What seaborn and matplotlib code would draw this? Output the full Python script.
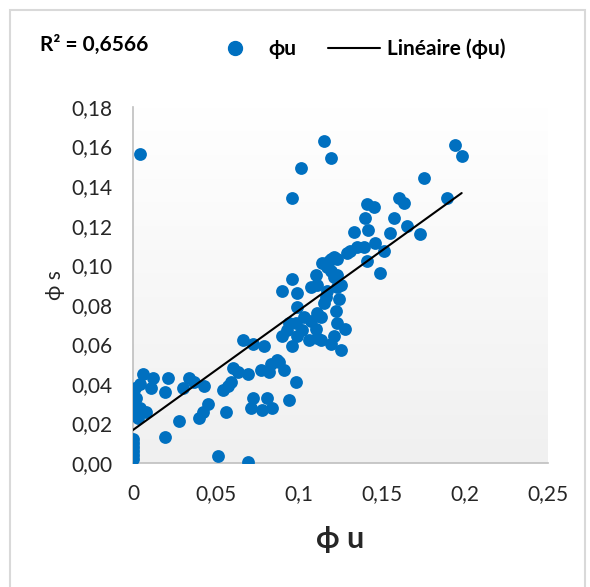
import numpy as np
import pandas as pd
import matplotlib
matplotlib.use("Agg")
import matplotlib.pyplot as plt
from matplotlib.colors import LinearSegmentedColormap
from matplotlib.lines import Line2D
from matplotlib.patches import Rectangle
import seaborn as sns

# ---- data ----
phi_u = [
    0.004, 0, 0, 0, 0, 0, 0,
    0, 0.006, 0.012, 0.011, 0.019, 0.021, 0.030, 0.034, 0.037, 0.043,
    0, 0, 0.008, 0.003, 0.004, 0.001, 0.004, 0.002,
    0.019, 0.028, 0.040, 0.042, 0.045,
    0.051, 0.069,
    0.054, 0.057, 0.059, 0.060, 0.063, 0.056,
    0.069, 0.072, 0.071, 0.078, 0.081, 0.084,
    0.077, 0.082, 0.088, 0.091, 0.083, 0.087,
    0.098, 0.094,
    0.066, 0.072, 0.079,
    0.115, 0.119, 0.1015, 0.096, 0.194, 0.198, 0.175, 0.189,
    0.141, 0.145, 0.140, 0.160, 0.163, 0.157, 0.165, 0.155, 0.173, 0.133, 0.1415,
    0.146, 0.151, 0.141, 0.149, 0.139, 0.135, 0.131, 0.129, 0.121, 0.118,
    0.119, 0.123, 0.110, 0.107, 0.096, 0.090, 0.099, 0.099,
    0.125, 0.124, 0.122, 0.123, 0.128, 0.121, 0.125, 0.113, 0.106, 0.110,
    0.113, 0.115, 0.117,
    0.094, 0.090, 0.096, 0.102, 0.103,
    0.114, 0.119, 0.123, 0.111, 0.099, 0.107, 0.111, 0.098, 0.093, 0.119, 0.111,
    0.117, 0.121, 0.123, 0.116,
]
phi_s = [
    0.156, 0.002, 0.004, 0.006, 0.008, 0.010, 0.012,
    0.036, 0.045, 0.043, 0.038, 0.036, 0.043, 0.038, 0.043, 0.041, 0.039,
    0.031, 0.026, 0.026, 0.023, 0.040, 0.038, 0.028, 0.033,
    0.013, 0.021, 0.023, 0.026, 0.030,
    0.0035, 0.0005,
    0.037, 0.039, 0.041, 0.048, 0.046, 0.026,
    0.045, 0.033, 0.028, 0.027, 0.033, 0.028,
    0.047, 0.046, 0.051, 0.047, 0.050, 0.052,
    0.041, 0.032,
    0.062, 0.060, 0.059,
    0.163, 0.154, 0.149, 0.134, 0.161, 0.155, 0.144, 0.134,
    0.131, 0.1295, 0.124, 0.134, 0.1315, 0.124, 0.120, 0.1165, 0.116, 0.117, 0.118,
    0.111, 0.107, 0.102, 0.096, 0.109, 0.109, 0.107, 0.106, 0.104, 0.102,
    0.097, 0.095, 0.095, 0.089, 0.093, 0.087, 0.086, 0.079,
    0.090, 0.083, 0.077, 0.071, 0.068, 0.064, 0.057, 0.062, 0.062, 0.068,
    0.074, 0.081, 0.087,
    0.071, 0.064, 0.059, 0.067, 0.074,
    0.101, 0.103, 0.103, 0.090, 0.064, 0.072, 0.076, 0.071, 0.067, 0.060, 0.063,
    0.099, 0.094, 0.089, 0.084,
]

# linear trend line (Excel "Linéaire")
trend_intercept = 0.0167
trend_slope = 0.605
r2_text = "R² = 0,6566"

x_ticks = [0, 0.05, 0.10, 0.15, 0.20, 0.25]
x_tick_labels = ["0", "0,05", "0,1", "0,15", "0,2", "0,25"]
y_ticks = [0, 0.02, 0.04, 0.06, 0.08, 0.10, 0.12, 0.14, 0.16, 0.18]
y_tick_labels = ["0,00", "0,02", "0,04", "0,06", "0,08", "0,10", "0,12", "0,14", "0,16", "0,18"]

df = pd.DataFrame({"phi_u": phi_u, "phi_s": phi_s})

# ---- style ----
sns.set_theme(style="white")
plt.rcParams["font.family"] = ["Lato", "DejaVu Sans"]
plt.rcParams["text.color"] = "#000000"

W, H = 590, 587
fig = plt.figure(figsize=(W / 100, H / 100), dpi=100)
fig.patch.set_facecolor("white")
ax = fig.add_axes([133 / W, 1 - 463 / H, (548 - 133) / W, (463 - 107) / H])

# gradient plot-area background
grad_cmap = LinearSegmentedColormap.from_list("bg", ["#FFFFFF", "#F0F0F0"])
ax.imshow(np.linspace(0, 1, 256).reshape(-1, 1), cmap=grad_cmap, aspect="auto",
          extent=[0, 1, 0, 1], transform=ax.transAxes, zorder=0)

blue = "#0070C0"
sns.scatterplot(data=df, x="phi_u", y="phi_s", ax=ax, color=blue, s=85,
                linewidth=0, zorder=3, legend=False)

xt = np.array([min(phi_u), max(phi_u)])
ax.plot(xt, trend_intercept + trend_slope * xt, color="black", lw=1.5, zorder=4)

ax.set_xlim(0, 0.25)
ax.set_ylim(0, 0.18)
ax.set_xticks(x_ticks)
ax.set_xticklabels(x_tick_labels, fontsize=15)
ax.set_yticks(y_ticks)
ax.set_yticklabels(y_tick_labels, fontsize=15)
ax.tick_params(axis="x", length=0, pad=15)
ax.tick_params(axis="y", length=0, pad=15)
for s in ["top", "right"]:
    ax.spines[s].set_visible(False)
for s in ["left", "bottom"]:
    ax.spines[s].set_color("#BFBFBF")
    ax.spines[s].set_linewidth(1.2)
ax.grid(False)

ax.set_xlabel("ϕ u", fontsize=22, fontweight="bold", labelpad=15)
ax.set_ylabel("ϕ s", fontsize=15, labelpad=4)

# legend + R² label at the top
fig.text(40 / W, 1 - 45 / H, r2_text, fontsize=15, fontweight="bold",
         va="center", ha="left")
handles = [
    Line2D([], [], marker="o", linestyle="none", color=blue, markersize=10),
    Line2D([], [], color="black", lw=1.5),
]
fig.legend(handles, ["ϕu", "Linéaire (ϕu)"], loc="center left",
           bbox_to_anchor=(209 / W, 1 - 49 / H), ncol=2, frameon=False,
           prop={"weight": "bold", "size": 15}, handlelength=2.5,
           handletextpad=0.35, columnspacing=1.5, borderaxespad=0, borderpad=0)

# outer chart border
fig.add_artist(Rectangle((10 / W, -0.01), (585 - 10) / W, 1 - 10 / H + 0.01,
                         transform=fig.transFigure, fill=False,
                         edgecolor="#D9D9D9", lw=1.5))

fig.savefig("out.png", dpi=100)
